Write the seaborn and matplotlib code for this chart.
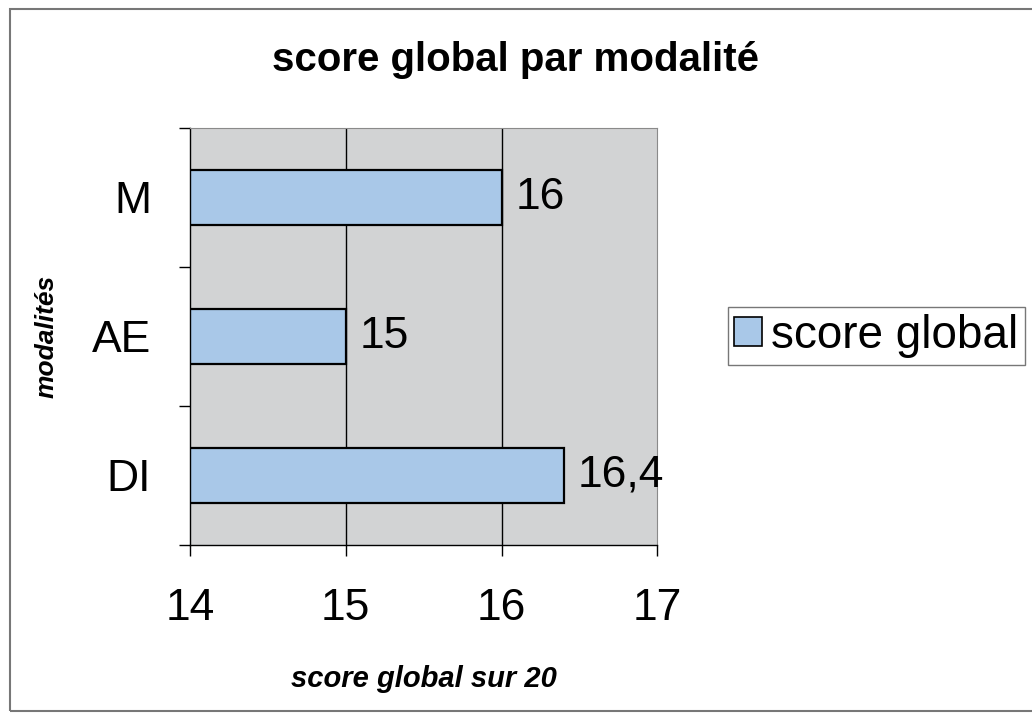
import pandas as pd
import numpy as np
import matplotlib
matplotlib.use("Agg")
import matplotlib.pyplot as plt
import seaborn as sns
from matplotlib.patches import Rectangle, Patch

# Data
modalites = ["M", "AE", "DI"]
scores = [16, 15, 16.4]
value_labels = ["16", "15", "16,4"]
x_ticks = [14, 15, 16, 17]

df = pd.DataFrame({"modalite": modalites, "score": scores})

sns.set_style("white")
plt.rcParams["font.family"] = ["Liberation Sans", "DejaVu Sans"]
plt.rcParams["text.color"] = "black"
plt.rcParams["axes.labelcolor"] = "black"
plt.rcParams["xtick.color"] = "black"
plt.rcParams["ytick.color"] = "black"

fig = plt.figure(figsize=(10.32, 7.15), dpi=100)
ax = fig.add_axes([0.184, 0.238, 0.453, 0.583])
ax.set_facecolor("#d2d3d4")

sns.barplot(data=df, x="score", y="modalite", orient="h", ax=ax,
            color="#a9c8e8", edgecolor="black", linewidth=1.6, width=0.4,
            saturation=1)

ax.set_xlim(14, 17)
ax.set_ylim(2.5, -0.5)
ax.set_xticks(x_ticks)
ax.set_xticklabels([str(t) for t in x_ticks], fontsize=32)
ax.tick_params(axis="x", bottom=True, length=8, width=1, direction="out", pad=23)
ax.tick_params(axis="y", which="major", left=True, length=0, labelsize=32, pad=28)
ax.set_yticks([-0.5, 0.5, 1.5, 2.5], minor=True)
ax.tick_params(axis="y", which="minor", left=True, length=8, width=1, direction="out")

# vertical gridlines
for v in [15, 16]:
    ax.axvline(v, color="black", linewidth=1, zorder=0.5)

for s in ["top", "right"]:
    ax.spines[s].set_color("#8a8a8a")
    ax.spines[s].set_linewidth(0.8)
for s in ["left", "bottom"]:
    ax.spines[s].set_color("black")
    ax.spines[s].set_linewidth(1)

for i, (v, lab) in enumerate(zip(scores, value_labels)):
    ax.text(v + 0.09, i, lab, va="center", ha="left", fontsize=32)

ax.set_xlabel("score global sur 20", fontsize=21, fontweight="bold",
              fontstyle="italic", labelpad=26)
ax.set_ylabel("modalités", fontsize=19, fontweight="bold",
              fontstyle="italic", labelpad=24)

fig.text(0.5, 0.916, "score global par modalité", ha="center", va="center",
         fontsize=29, fontweight="bold")

handle = Patch(facecolor="#a9c8e8", edgecolor="black", linewidth=1.2)
fig.legend([handle], ["score global"], loc="center left",
           bbox_to_anchor=(0.705, 0.53), fontsize=33, frameon=True,
           fancybox=False, edgecolor="#555555", handlelength=0.6,
           handleheight=0.6, handletextpad=0.2, borderpad=0.15,
           borderaxespad=0)

# outer chart frame
fig.patches.append(Rectangle((0.01, 0.005), 0.995, 0.983, transform=fig.transFigure,
                             fill=False, edgecolor="#777777", linewidth=1.5))

fig.savefig("out.png", dpi=100)
